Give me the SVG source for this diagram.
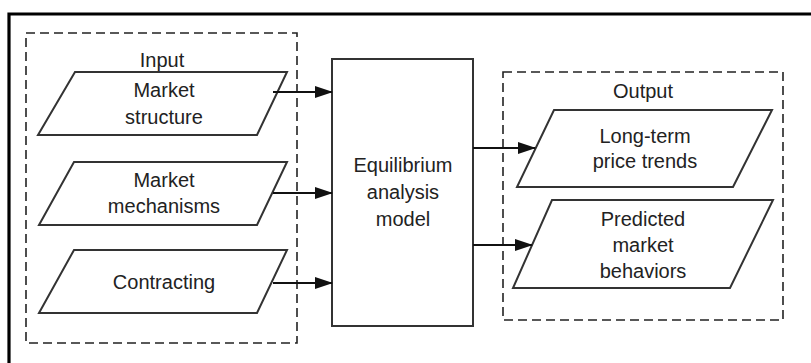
<svg xmlns="http://www.w3.org/2000/svg" width="811" height="363" viewBox="0 0 811 363">
<defs>
<style>
.t{font-family:"Liberation Sans",Arial,sans-serif;font-size:20px;fill:#222;text-anchor:middle}
.shape{fill:#fff;stroke:#333;stroke-width:2}
.dash{fill:none;stroke:#222;stroke-width:1.6;stroke-dasharray:9 5}
.conn{stroke:#111;stroke-width:1.8;fill:none;marker-end:url(#ah)}
</style>
<marker id="ah" markerWidth="18" markerHeight="12" refX="17" refY="6" orient="auto" markerUnits="userSpaceOnUse">
<path d="M0,0 L18,6 L0,12 Z" fill="#111"/>
</marker>
</defs>
<rect width="811" height="363" fill="#fff"/>
<path d="M9,363 V14 H811" fill="none" stroke="#000" stroke-width="3.2"/>
<g id="input-group">
<rect class="dash" x="26" y="33" width="271" height="310"/>
<text class="t" x="162" y="67">Input</text>
</g>
<g id="market-structure">
<polygon class="shape" points="75,72 287,72 257,135 38,135"/>
<text class="t" x="164" y="97">Market</text>
<text class="t" x="164" y="124">structure</text>
</g>
<g id="market-mechanisms">
<polygon class="shape" points="74,162 287,162 257,225 39,225"/>
<text class="t" x="164" y="187">Market</text>
<text class="t" x="164" y="213">mechanisms</text>
</g>
<g id="contracting">
<polygon class="shape" points="74,250 287,250 257,313 39,313"/>
<text class="t" x="164" y="289">Contracting</text>
</g>
<g id="model">
<rect class="shape" x="332" y="59" width="141" height="267"/>
<text class="t" x="403" y="172">Equilibrium</text>
<text class="t" x="403" y="199">analysis</text>
<text class="t" x="403" y="226">model</text>
</g>
<g id="output-group">
<rect class="dash" x="503" y="72" width="280" height="248"/>
<text class="t" x="643" y="98">Output</text>
</g>
<g id="long-term">
<polygon class="shape" points="554,110 772,110 733,187 517,187"/>
<text class="t" x="645" y="143">Long-term</text>
<text class="t" x="645" y="168">price trends</text>
</g>
<g id="predicted">
<polygon class="shape" points="552,200 773,200 730,288 513,288"/>
<text class="t" x="643" y="226">Predicted</text>
<text class="t" x="643" y="252">market</text>
<text class="t" x="643" y="278">behaviors</text>
</g>
<g id="connectors">
<line class="conn" x1="273" y1="92" x2="332" y2="92"/>
<line class="conn" x1="273" y1="193" x2="332" y2="193"/>
<line class="conn" x1="273" y1="283" x2="332" y2="283"/>
<line class="conn" x1="473" y1="148" x2="535" y2="148"/>
<line class="conn" x1="473" y1="245" x2="532" y2="245"/>
</g>
</svg>
